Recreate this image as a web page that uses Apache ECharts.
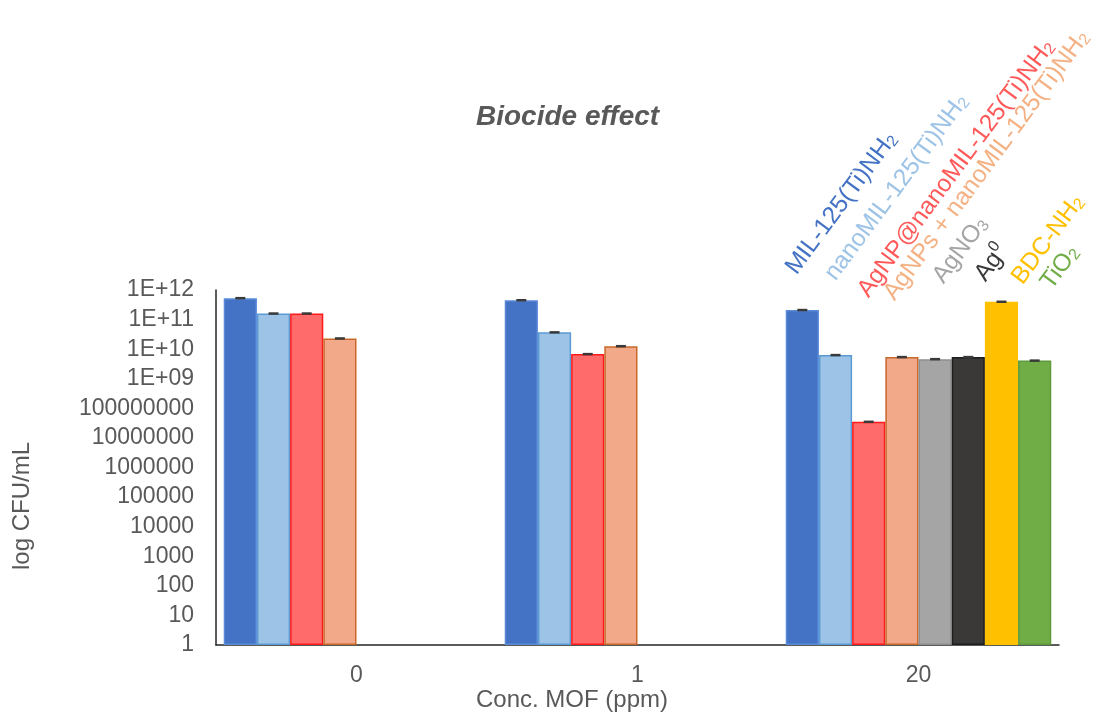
<!DOCTYPE html>
<html>
<head>
<meta charset="utf-8">
<script src="https://cdn.jsdelivr.net/npm/echarts@6/dist/echarts.min.js"></script>
<style>
  html, body { margin: 0; padding: 0; background: #ffffff; }
  #chart { width: 1099px; height: 722px; }
</style>
</head>
<body>
<div id="chart"></div>
<script>
// Concentration groups on the x axis
const categories = ['0', '1', '20'];

// Bacterial counts (CFU/mL) per material, one value per concentration
const milTiNH2      = [5.3e11, 4.5e11, 2.1e11];
const nanoMilTiNH2  = [1.6e11, 3.7e10, 6.3e9];
const agnpAtNanoMil = [1.6e11, 6.8e9, 3.5e7];
const agnpsPlusNano = [2.3e10, 1.26e10, 5.4e9];
const agNO3         = [null, null, 4.6e9];
const ag0           = [null, null, 5.4e9];
const bdcNH2        = [null, null, 4.0e11];
const tiO2          = [null, null, 4.1e9];

const seriesNames = [
  'MIL-125(Ti)NH2', 'nanoMIL-125(Ti)NH2', 'AgNP@nanoMIL-125(Ti)NH2',
  'AgNPs + nanoMIL-125(Ti)NH2', 'AgNO3', 'Ag0', 'BDC-NH2', 'TiO2'
];
const seriesValues = [milTiNH2, nanoMilTiNH2, agnpAtNanoMil, agnpsPlusNano, agNO3, ag0, bdcNH2, tiO2];

// Rich-text versions of the names (sub/superscripts)
const seriesRichNames = [
  '{t|MIL-125(Ti)NH}{sub|2}',
  '{t|nanoMIL-125(Ti)NH}{sub|2}',
  '{t|AgNP@nanoMIL-125(Ti)NH}{sub|2}',
  '{t|AgNPs + nanoMIL-125(Ti)NH}{sub|2}',
  '{t|AgNO}{sub|3}',
  '{t|Ag}{sup|0}',
  '{t|BDC-NH}{sub|2}',
  '{t|TiO}{sub|2}'
];

// Y tick range (powers of ten)
const yTickMin = 1;
const yTickMax = 1e12;

// Styling
const fillColors   = ['#4472C4', '#9DC3E6', '#FF6B6B', '#F2A98A', '#A5A5A5', '#3B3838', '#FFC000', '#70AD47'];
const borderColors = ['#5A8AD8', '#5B9BD5', '#FF1A1A', '#C8692A', '#8E8E8E', '#1E1E1E', '#FFC000', '#5E9A3C'];
const nameColors   = ['#4472C4', '#9DC3E6', '#FF5A5A', '#F4B183', '#A5A5A5', '#3B3838', '#FFC000', '#70AD47'];
// Anchor of each rotated series name
const nameAnchors  = [[801, 279], [840, 285], [873, 302], [899, 305], [948, 288], [990, 286], [1027, 289], [1056, 294]];

const FONT = '"Liberation Sans", Arial, sans-serif';
const GREY = '#595959';

function tickLabel(v) {
  const e = Math.round(Math.log10(v));
  if (e >= 9) return '1E+' + (e < 10 ? '0' + e : e);
  return String(Math.round(v));
}

const series = seriesNames.map((name, i) => ({
  name: name,
  type: 'bar',
  barGap: '0%',
  barCategoryGap: '5.5%',
  data: seriesValues[i].map(v => (v == null ? '-' : v)),
  itemStyle: { color: fillColors[i], borderColor: borderColors[i], borderWidth: 1.5 },
  markPoint: {
    silent: true,
    symbol: 'rect',
    symbolSize: [10, 2.5],
    itemStyle: { color: '#3a3a3a' },
    label: { show: false },
    data: seriesValues[i]
      .map((v, c) => (v == null ? null : { coord: [categories[c], v] }))
      .filter(d => d)
  }
}));

const nameGraphics = seriesRichNames.map((txt, i) => ({
  type: 'text',
  x: nameAnchors[i][0],
  y: nameAnchors[i][1],
  rotation: 53.5 * Math.PI / 180,
  silent: true,
  style: {
    text: txt,
    align: 'left',
    verticalAlign: 'bottom',
    rich: {
      t:   { fontSize: 24.5, fontFamily: FONT, fill: nameColors[i], lineHeight: 28, verticalAlign: 'bottom' },
      sub: { fontSize: 16, fontFamily: FONT, fill: nameColors[i], lineHeight: 14, verticalAlign: 'bottom' },
      sup: { fontSize: 16, fontFamily: FONT, fill: nameColors[i], lineHeight: 18, verticalAlign: 'top' }
    }
  }
}));

const chart = echarts.init(document.getElementById('chart'), null, { renderer: 'canvas' });
chart.setOption({
  animation: false,
  backgroundColor: '#ffffff',
  title: {
    text: 'Biocide effect',
    left: 471,
    top: 98,
    textStyle: { fontFamily: FONT, fontSize: 28, fontWeight: 'bold', fontStyle: 'italic', color: GREY }
  },
  grid: { left: 216, right: 40, top: 290, bottom: 77 },
  xAxis: {
    type: 'category',
    data: categories,
    axisLine: { show: true, lineStyle: { color: '#262626', width: 1.5 } },
    axisTick: { show: false },
    axisLabel: { color: GREY, fontSize: 23, fontFamily: FONT, margin: 19 },
    splitLine: { show: false }
  },
  yAxis: {
    type: 'log',
    logBase: 10,
    min: yTickMin,
    max: yTickMax,
    interval: 1,
    axisLine: { show: true, lineStyle: { color: '#262626', width: 1.5 } },
    axisTick: { show: false },
    splitLine: { show: false },
    axisLabel: { color: GREY, fontSize: 23, fontFamily: FONT, margin: 22, formatter: tickLabel }
  },
  graphic: [
    {
      type: 'text', x: 22, y: 506, rotation: Math.PI / 2, silent: true,
      style: { text: 'log CFU/mL', align: 'center', verticalAlign: 'middle', fontSize: 24, fontFamily: FONT, fill: GREY }
    },
    {
      type: 'text', x: 572, y: 700, silent: true,
      style: { text: 'Conc. MOF (ppm)', align: 'center', verticalAlign: 'middle', fontSize: 24, fontFamily: FONT, fill: GREY }
    }
  ].concat(nameGraphics),
  series: series
});
</script>
</body>
</html>
